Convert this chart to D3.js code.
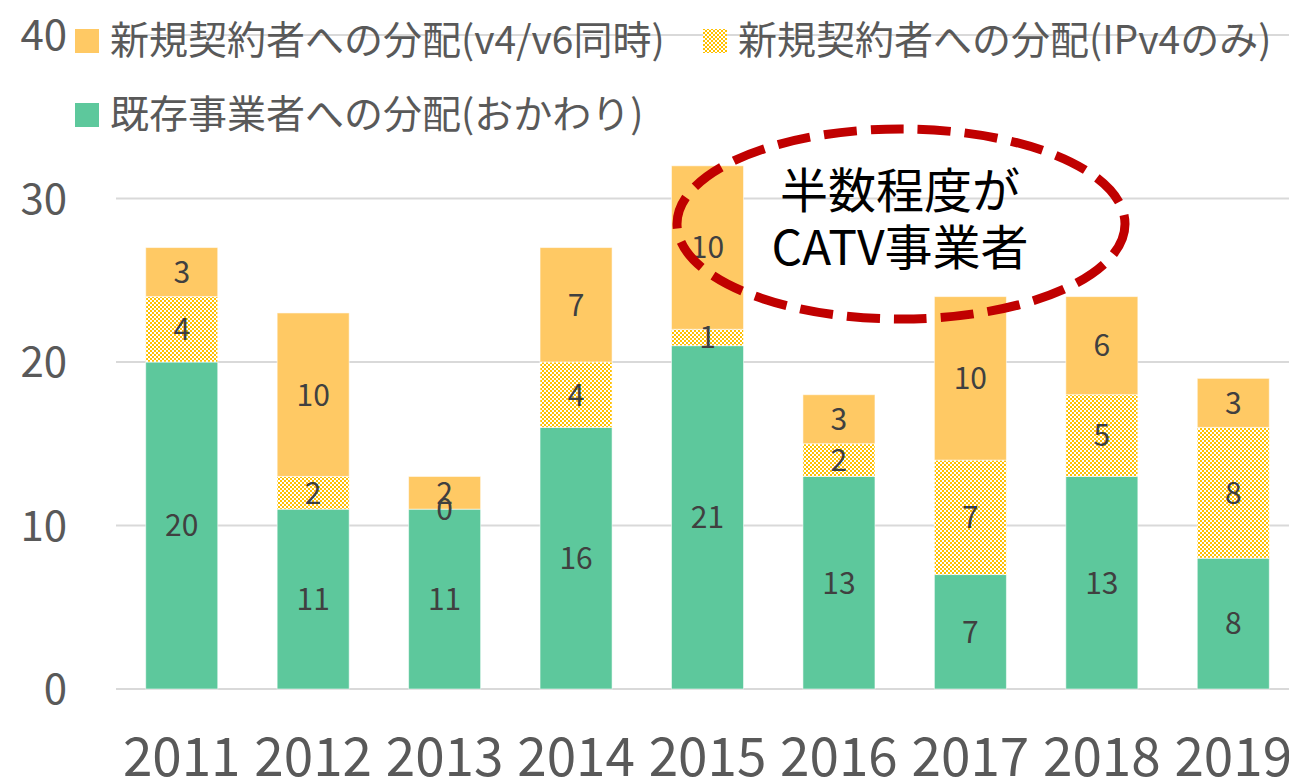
<!DOCTYPE html>
<html>
<head>
<meta charset="utf-8">
<script src="https://cdn.jsdelivr.net/npm/d3@7"></script>
<style>
  body { margin: 0; background: #fff; }
  svg { display: block; font-family: "Noto Sans CJK JP", "Noto Sans", sans-serif; }
</style>
</head>
<body>
<div id="chart"></div>
<script>
// data
const years = ["2011", "2012", "2013", "2014", "2015", "2016", "2017", "2018", "2019"];
const existing = [20, 11, 11, 16, 21, 13, 7, 13, 8];     // 既存事業者への分配(おかわり)
const ipv4Only = [4, 2, 0, 4, 1, 2, 7, 5, 8];            // 新規契約者への分配(IPv4のみ)
const dualStack = [3, 10, 2, 7, 10, 3, 10, 6, 3];        // 新規契約者への分配(v4/v6同時)
const yTicks = [0, 10, 20, 30, 40];

const seriesKeys = ["existing", "ipv4", "dual"];
const seriesNames = {
    dual: "新規契約者への分配(v4/v6同時)",
    ipv4: "新規契約者への分配(IPv4のみ)",
    existing: "既存事業者への分配(おかわり)"
};

const W = 1289, H = 778;
const svg = d3.select("#chart").append("svg")
    .attr("width", W)
    .attr("height", H);

// checker pattern for the IPv4-only series
const defs = svg.append("defs");
const pat = defs.append("pattern")
    .attr("id", "checker")
    .attr("width", 4).attr("height", 4)
    .attr("patternUnits", "userSpaceOnUse");
pat.append("rect").attr("width", 4).attr("height", 4).attr("fill", "#fff");
pat.append("rect").attr("width", 2).attr("height", 2).attr("fill", "#FFC000");
pat.append("rect").attr("x", 2).attr("y", 2).attr("width", 2).attr("height", 2).attr("fill", "#FFC000");

const colors = { existing: "#5DC89C", ipv4: "url(#checker)", dual: "#FFC964" };

const table = years.map((yr, i) => ({
    year: yr, existing: existing[i], ipv4: ipv4Only[i], dual: dualStack[i]
}));

const x = d3.scaleBand()
    .domain(years)
    .range([116, 1299])
    .paddingInner(0.452)
    .paddingOuter(0.226);

const y = d3.scaleLinear()
    .domain([0, 40])
    .range([689, 35]);

// gridlines
svg.append("g")
    .selectAll("line")
    .data(yTicks)
    .join("line")
    .attr("x1", 116).attr("x2", W)
    .attr("y1", d => y(d)).attr("y2", d => y(d))
    .attr("stroke", "#d9d9d9")
    .attr("stroke-width", 2);

// y tick labels
svg.append("g")
    .selectAll("text")
    .data(yTicks)
    .join("text")
    .attr("x", 67)
    .attr("y", d => y(d))
    .attr("dy", "0.36em")
    .attr("text-anchor", "end")
    .attr("font-size", 42)
    .attr("fill", "#595959")
    .text(d => d);

// x labels
svg.append("g")
    .selectAll("text")
    .data(years)
    .join("text")
    .attr("x", d => x(d) + x.bandwidth() / 2)
    .attr("y", 776)
    .attr("text-anchor", "middle")
    .attr("font-size", 53)
    .attr("fill", "#595959")
    .text(d => d);

const stacked = d3.stack().keys(seriesKeys)(table);

const layers = svg.append("g")
    .selectAll("g")
    .data(stacked)
    .join("g")
    .attr("fill", d => colors[d.key]);

layers.selectAll("rect")
    .data(d => d)
    .join("rect")
    .attr("x", d => x(d.data.year))
    .attr("width", x.bandwidth())
    .attr("y", d => y(d[1]))
    .attr("height", d => y(d[0]) - y(d[1]))
    .attr("stroke", "rgba(255,255,255,0.55)")
    .attr("stroke-width", 1);

// data labels
svg.append("g")
    .selectAll("g")
    .data(stacked)
    .join("g")
    .selectAll("text")
    .data(d => d)
    .join("text")
    .attr("x", d => x(d.data.year) + x.bandwidth() / 2)
    .attr("y", d => y((d[0] + d[1]) / 2))
    .attr("dy", "0.36em")
    .attr("text-anchor", "middle")
    .attr("font-size", 30)
    .attr("fill", "#404040")
    .text(d => d[1] - d[0]);

// legend
const legendItems = [
    { key: "dual", x: 75, y: 40 },
    { key: "ipv4", x: 703, y: 40 },
    { key: "existing", x: 75, y: 114 }
];
const lg = svg.append("g")
    .selectAll("g")
    .data(legendItems)
    .join("g")
    .attr("transform", d => `translate(${d.x},${d.y})`);
lg.append("rect")
    .attr("x", 0).attr("y", -11)
    .attr("width", 24).attr("height", 24)
    .attr("fill", d => colors[d.key]);
lg.append("text")
    .attr("x", 35)
    .attr("y", 0)
    .attr("dy", "0.36em")
    .attr("font-size", 39)
    .attr("fill", "#595959")
    .text(d => seriesNames[d.key]);

// annotation
const note = svg.append("g");
note.append("ellipse")
    .attr("cx", 901).attr("cy", 224)
    .attr("rx", 224).attr("ry", 95)
    .attr("fill", "none")
    .attr("stroke", "#C00000")
    .attr("stroke-width", 9)
    .attr("stroke-dasharray", "33 14");
note.selectAll("text")
    .data(["半数程度が", "CATV事業者"])
    .join("text")
    .attr("x", 900)
    .attr("y", (d, i) => 191 + i * 57)
    .attr("dy", "0.36em")
    .attr("text-anchor", "middle")
    .attr("font-size", 48)
    .attr("fill", "#000")
    .text(d => d);
</script>
</body>
</html>
